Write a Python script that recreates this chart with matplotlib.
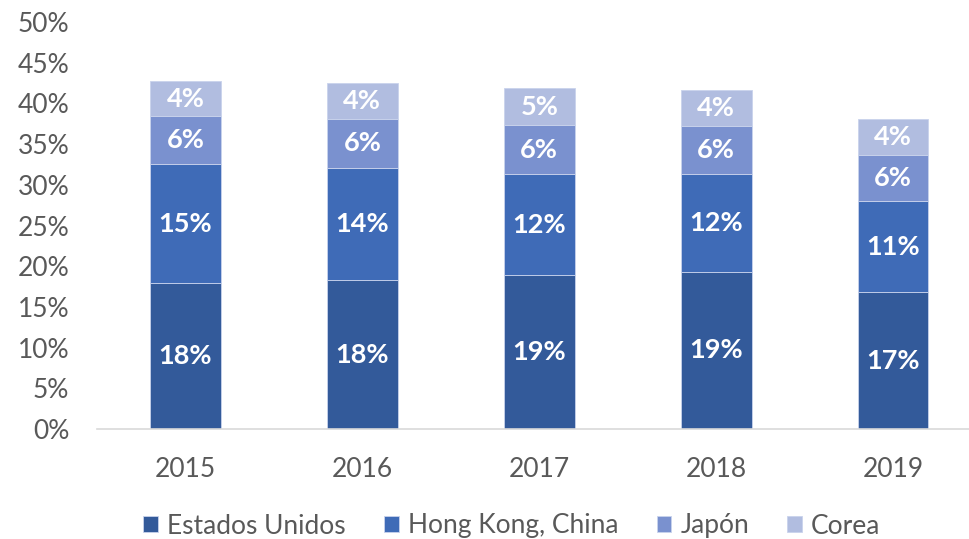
import matplotlib
matplotlib.use("Agg")
import matplotlib.pyplot as plt
import numpy as np

years = ["2015", "2016", "2017", "2018", "2019"]
series_names = ["Estados Unidos", "Hong Kong, China", "Japón", "Corea"]
estados_unidos = [17.9, 18.3, 18.9, 19.3, 16.8]
hong_kong = [14.6, 13.8, 12.4, 12.0, 11.2]
japon = [5.9, 6.0, 6.0, 5.9, 5.7]
corea = [4.4, 4.4, 4.6, 4.4, 4.4]
colors = ["#335A9A", "#3F6BB7", "#7A91CF", "#B1BDE0"]
y_ticks = [0, 5, 10, 15, 20, 25, 30, 35, 40, 45, 50]

plt.rcParams['font.family'] = ['Lato', 'DejaVu Sans']

fig = plt.figure(figsize=(9.69, 5.39), dpi=100)
W, H = 969, 539
left = 97 / W
bottom = (H - 429) / H
height = 407 / H
width = (981.5 - 97) / W
ax = fig.add_axes([left, bottom, width, height])

x = np.arange(len(years))
data = [estados_unidos, hong_kong, japon, corea]
base = np.zeros(len(years))
handles = []
for name, vals, c in zip(series_names, data, colors):
    vals = np.array(vals)
    bars = ax.bar(x, vals, 0.4, bottom=base, color=c, edgecolor="#C9D3EC",
                  linewidth=0.6, label=name)
    handles.append(bars)
    for xi, b, v in zip(x, base, vals):
        ax.text(xi, b + v / 2, f"{v:.0f}%", ha="center", va="center",
                color="white", fontsize=19.5, fontweight="bold")
    base = base + vals

ax.set_xlim(-0.5, 4.5)
ax.set_ylim(0, 50)
ax.set_yticks(y_ticks)
ax.set_yticklabels([f"{t}%" for t in y_ticks])
ax.set_xticks(x)
ax.set_xticklabels(years)
for s in ["top", "right", "left"]:
    ax.spines[s].set_visible(False)
ax.spines["bottom"].set_color("#D9D9D9")
ax.spines["bottom"].set_linewidth(1.2)
ax.tick_params(axis="both", length=0, labelsize=19, colors="#595959")
ax.tick_params(axis="x", pad=20)
ax.tick_params(axis="y", pad=20)

fig.legend(handles=handles, labels=series_names, loc="center",
           bbox_to_anchor=(512 / W, 1 - 526 / H), ncol=4, frameon=False,
           fontsize=19, handlelength=0.55, handleheight=0.55,
           handletextpad=0.35, columnspacing=1.45, labelcolor="#595959")

fig.savefig("out.png", dpi=100)
